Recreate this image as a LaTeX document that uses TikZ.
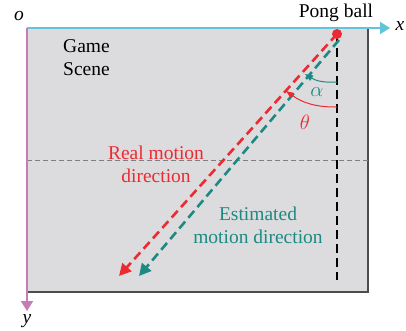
\documentclass[tikz,border=0pt]{standalone}
\usepackage{fontspec}
\setmainfont{Liberation Serif}
\usetikzlibrary{arrows.meta}
\definecolor{bgray}{HTML}{DCDCDE}
\definecolor{myred}{HTML}{EC2A31}
\definecolor{myteal}{HTML}{1C8A82}
\definecolor{mypink}{HTML}{C97BB6}
\definecolor{mycyan}{HTML}{62C3DA}
\tikzset{
  lbl/.style={font=\fontsize{19.5}{23}\selectfont, align=center, inner sep=0pt},
  motion/.style={line width=2.6pt, dash pattern=on 9pt off 5pt, -{Triangle[length=12pt,width=12pt]}},
  anglearc/.style={line width=1pt, -{Triangle[length=8pt,width=6pt]}},
}
\begin{document}
\begin{tikzpicture}[x=1pt,y=-1pt]
\useasboundingbox (0,0) rectangle (406,330);
% scene
\fill[bgray] (27,28) rectangle (368,292);
\draw[line width=1.2pt, black!70] (27,292) -- (368,292) -- (368,28);
\node[lbl, anchor=west] (scene) at (63,58) {Game\\Scene};
% mid gray dashed line
\coordinate (ml) at (27,160);
\coordinate (mr) at (368,160);
\draw[gray, line width=0.9pt, dash pattern=on 5pt off 3pt] (ml) -- (mr);
% axes
\coordinate (o) at (27,28);
\coordinate (xe) at (390,28);
\coordinate (ye) at (27,311);
\draw[mycyan, line width=2pt, -{Triangle[length=10pt,width=12pt]}] (o) -- (xe);
\draw[mypink, line width=2pt, -{Triangle[length=10pt,width=12pt]}] (o) -- (ye);
\node[lbl, font=\fontsize{19.5}{23}\selectfont\itshape] (olab) at (19,16) {o};
\node[lbl, font=\fontsize{19.5}{23}\selectfont\itshape] (xlab) at (400,26) {x};
\node[lbl, font=\fontsize{19.5}{23}\selectfont\itshape] (ylab) at (27,321) {y};
% ball
\coordinate (ball) at (337,34);
\coordinate (vbot) at (337,280);
\draw[black, line width=2.4pt, dash pattern=on 9pt off 5pt] (ball) -- (vbot);
\coordinate (redtip) at (119,276);
\coordinate (tealstart) at (339,40);
\coordinate (tealtip) at (139,276);
\draw[myred, motion] (ball) -- (redtip);
\draw[myteal, motion] (tealstart) -- (tealtip);
\fill[myred] (ball) circle (5pt);
\node[lbl, anchor=south] (pong) at (336,22) {Pong ball};
% angle arcs
\coordinate (a1) at (337,82);
\coordinate (a2) at (305,74);
\coordinate (t1) at (337,107);
\coordinate (t2) at (286,91);
\draw[myteal, anglearc] (a1) to[bend left=18] (a2);
\draw[myred, anglearc] (t1) to[bend left=18] (t2);
\node[lbl, myteal] (alpha) at (317,92) {$\mathit{\alpha}$};
\node[lbl, myred] (theta) at (305,122) {$\theta$};
% labels
\node[lbl, myred] (real) at (156,164) {Real motion\\direction};
\node[lbl, myteal] (est) at (258,225) {Estimated\\motion direction};
\end{tikzpicture}
\end{document}
